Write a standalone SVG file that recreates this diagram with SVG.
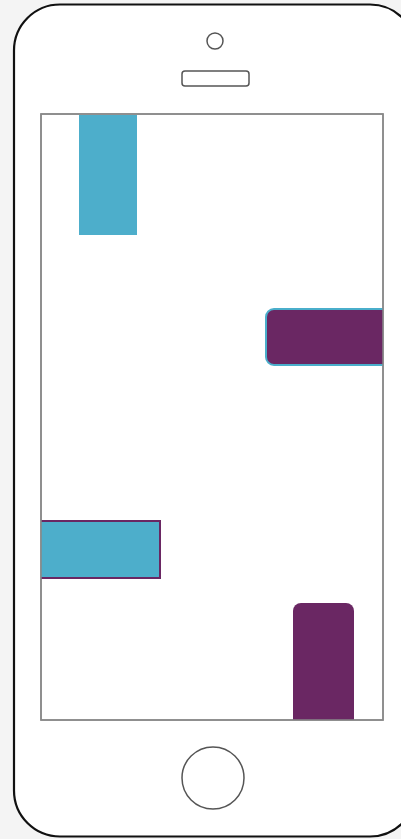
<svg xmlns="http://www.w3.org/2000/svg" width="401" height="839" viewBox="0 0 401 839">
<style>
.blue{fill:#4daecb}
.purple{fill:#6a2763}
.outline{fill:none;stroke:#555;stroke-width:1.5}
</style>
<defs>
<clipPath id="screenClip"><rect x="41" y="114" width="342" height="606"/></clipPath>
</defs>
<rect x="0" y="0" width="401" height="839" fill="#f4f4f4"/>
<g id="phone">
<rect x="14" y="4.5" width="402" height="832" rx="46" ry="46" fill="#fff" stroke="#111" stroke-width="2.2"/>
<circle cx="215" cy="41" r="8" class="outline"/>
<rect x="182" y="71" width="67" height="15" rx="3" class="outline"/>
<circle cx="213" cy="778" r="31" class="outline"/>
</g>
<g id="screen">
<rect x="41" y="114" width="342" height="606" fill="#fff" stroke="#888" stroke-width="1.5"/>
</g>
<g clip-path="url(#screenClip)">
<g id="block1"><rect x="79" y="115" width="58" height="120" class="blue"/></g>
<g id="block2"><rect x="266" y="309" width="130" height="56" rx="8" class="purple" stroke="#4aaecb" stroke-width="2"/></g>
<g id="block3"><rect x="30" y="521" width="130" height="57" class="blue" stroke="#6a2763" stroke-width="2"/></g>
<g id="block4"><rect x="293" y="603" width="61" height="130" rx="8" class="purple"/></g>
</g>
<rect x="41" y="114" width="342" height="606" fill="none" stroke="#888" stroke-width="1.5"/>
<g id="connectors"/>
</svg>
